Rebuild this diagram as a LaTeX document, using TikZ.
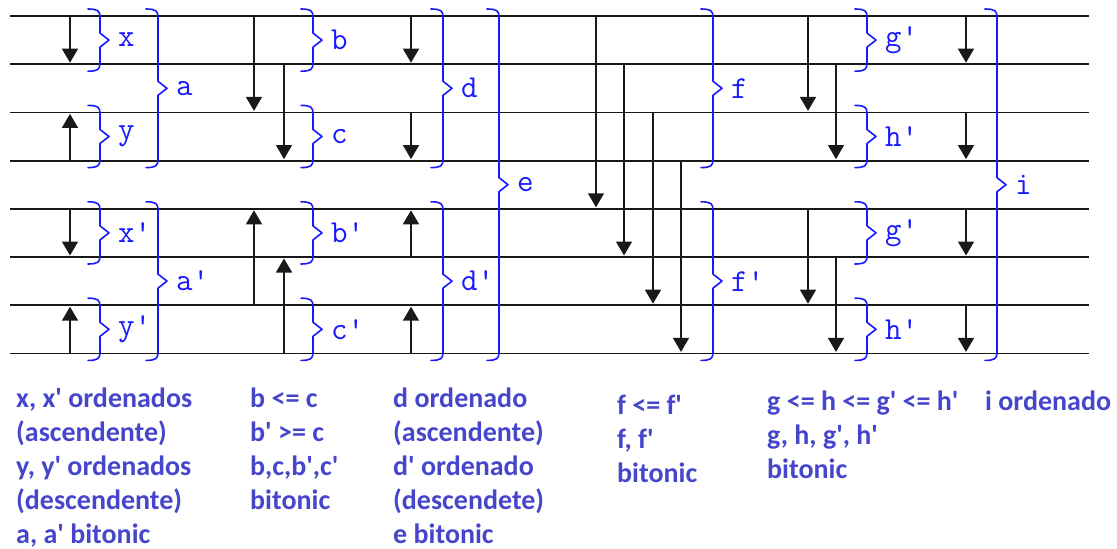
\documentclass[tikz,border=0pt]{standalone}
\usepackage{fontspec}
\newfontfamily\botfont{Carlito}
\usetikzlibrary{arrows.meta,calc}
\definecolor{wire}{RGB}{25,25,25}
\definecolor{brblue}{RGB}{25,25,255}
\definecolor{txtblue}{RGB}{70,70,205}
\tikzset{
  wireline/.style={draw=wire, line width=1.8pt},
  cmp/.style={draw=wire, line width=1.5pt, -{Triangle[width=16pt,length=14pt]}, shorten >=1.5pt},
  brc/.style={draw=brblue, line width=1.6pt, line join=round, line cap=round},
  brlabel/.style={text=brblue, font=\ttfamily\fontsize{32}{32}\selectfont, anchor=west, inner sep=0pt},
  note/.style={text=txtblue, font=\botfont\bfseries\fontsize{28}{34}\selectfont, align=left, anchor=north west, inner sep=0pt}
}
\newcommand\cmpline[4]{%
  \coordinate (#1s) at (#2,{16+48.2*#3});
  \coordinate (#1e) at (#2,{16+48.2*#4});
  \draw[cmp] (#1s) -- (#1e);}
\newcommand\bracemark[5]{%
  \coordinate (#1t) at (#2,{16+48.2*#3-7});
  \coordinate (#1b) at (#2,{16+48.2*#4+7});
  \coordinate (#1m) at ($(#1t)!0.5!(#1b)$);
  \draw[brc] ($(#1t)+(-12,0)$) .. controls ($(#1t)+(-2,0)$) and ($(#1t)+(0,2)$) .. ($(#1t)+(0,8)$)
     -- ($(#1m)+(0,-7)$) -- ($(#1m)+(9,0)$) -- ($(#1m)+(0,7)$)
     -- ($(#1b)+(0,-8)$) .. controls ($(#1b)+(0,-2)$) and ($(#1b)+(-2,0)$) .. ($(#1b)+(-12,0)$);
  \node[brlabel] (#1) at ($(#1m)+(18,0)$) {#5};}
\begin{document}
\begin{tikzpicture}[x=1pt,y=-1pt]
\useasboundingbox (0,0) rectangle (1117,549);
% wires
\foreach \i in {0,...,7}{
  \coordinate (wL\i) at (10,{16+48.2*\i});
  \coordinate (wR\i) at (1089,{16+48.2*\i});
  \draw[wireline] (wL\i) -- (wR\i);
}
% stage 1
\cmpline{p1}{70}{0}{1}
\cmpline{p2}{70}{3}{2}
\cmpline{p3}{70}{4}{5}
\cmpline{p4}{70}{7}{6}
% stage 2
\cmpline{q1}{254}{0}{2}
\cmpline{q2}{284}{1}{3}
\cmpline{q3}{254}{6}{4}
\cmpline{q4}{284}{7}{5}
\cmpline{r1}{411}{0}{1}
\cmpline{r2}{411}{2}{3}
\cmpline{r3}{411}{5}{4}
\cmpline{r4}{411}{7}{6}
% stage 3
\cmpline{s1}{596}{0}{4}
\cmpline{s2}{624}{1}{5}
\cmpline{s3}{653}{2}{6}
\cmpline{s4}{681}{3}{7}
\cmpline{t1}{808}{0}{2}
\cmpline{t2}{836}{1}{3}
\cmpline{t3}{808}{4}{6}
\cmpline{t4}{836}{5}{7}
\cmpline{u1}{966}{0}{1}
\cmpline{u2}{966}{2}{3}
\cmpline{u3}{966}{4}{5}
\cmpline{u4}{966}{6}{7}
% braces
\bracemark{bx}{100}{0}{1}{x}
\bracemark{by}{100}{2}{3}{y}
\bracemark{bxp}{100}{4}{5}{x\textquotesingle}
\bracemark{byp}{100}{6}{7}{y\textquotesingle}
\bracemark{ba}{158}{0}{3}{a}
\bracemark{bap}{158}{4}{7}{a\textquotesingle}
\bracemark{bb}{313}{0}{1}{b}
\bracemark{bc}{313}{2}{3}{c}
\bracemark{bbp}{313}{4}{5}{b\textquotesingle}
\bracemark{bcp}{313}{6}{7}{c\textquotesingle}
\bracemark{bd}{443}{0}{3}{d}
\bracemark{bdp}{443}{4}{7}{d\textquotesingle}
\bracemark{be}{499}{0}{7}{e}
\bracemark{bf}{713}{0}{3}{f}
\bracemark{bfp}{713}{4}{7}{f\textquotesingle}
\bracemark{bg}{867}{0}{1}{g\textquotesingle}
\bracemark{bh}{867}{2}{3}{h\textquotesingle}
\bracemark{bgp}{867}{4}{5}{g\textquotesingle}
\bracemark{bhp}{867}{6}{7}{h\textquotesingle}
\bracemark{bi}{997}{0}{7}{i}
% notes
\node[note] (n1) at (16,388) {x, x\textquotesingle{} ordenados\\(ascendente)\\y, y\textquotesingle{} ordenados\\(descendente)\\a, a\textquotesingle{} bitonic};
\node[note] (n2) at (250,388) {b <= c\\b\textquotesingle{} >= c\\b,c,b\textquotesingle,c\textquotesingle\\bitonic};
\node[note] (n3) at (393,388) {d ordenado\\(ascendente)\\d\textquotesingle{} ordenado\\(descendete)\\e bitonic};
\node[note] (n4) at (617,395) {f <= f\textquotesingle\\f, f\textquotesingle\\bitonic};
\node[note] (n5) at (767,391) {g <= h <= g\textquotesingle{} <= h\textquotesingle\\g, h, g\textquotesingle, h\textquotesingle\\bitonic};
\node[note] (n6) at (985,391) {i ordenado};
\end{tikzpicture}
\end{document}
